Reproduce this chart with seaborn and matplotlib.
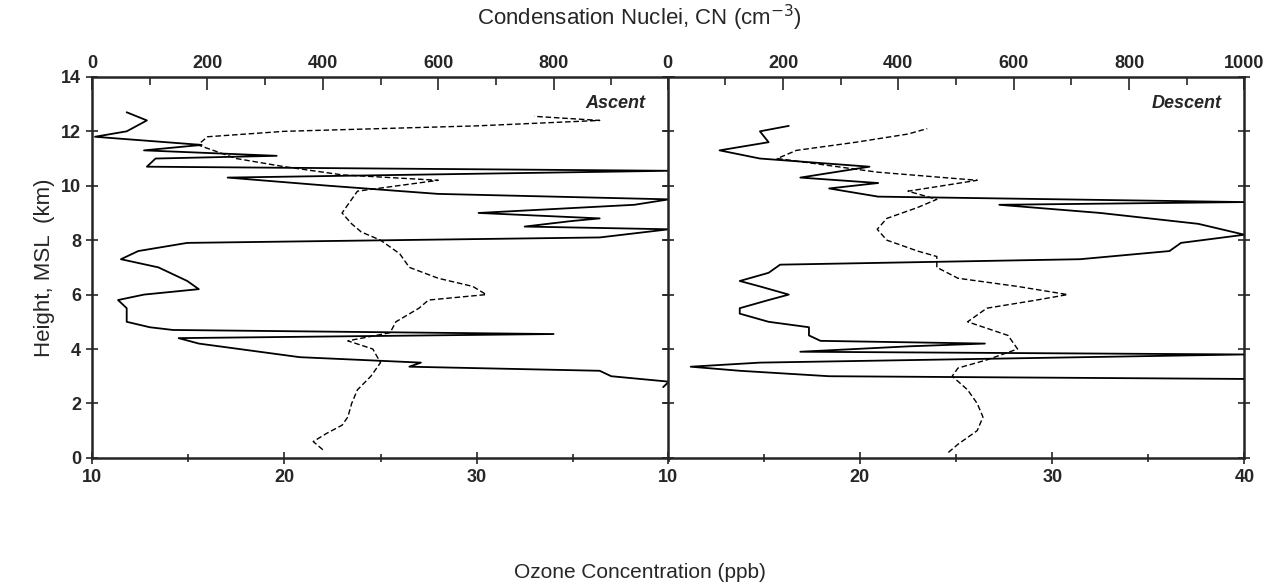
import matplotlib
matplotlib.use("Agg")
import matplotlib.pyplot as plt
import seaborn as sns
from matplotlib.ticker import MultipleLocator

# Ascent: CN (solid, top axis) and ozone (dashed, bottom axis)
asc_cn_h = [2.6, 2.8, 3.0, 3.2, 3.35, 3.5, 3.7, 3.9, 4.2, 4.4, 4.55, 4.7, 4.8, 5.0, 5.5, 5.8,
            6.0, 6.2, 6.5, 7.0, 7.3, 7.6, 7.9, 8.1, 8.4, 8.5, 8.7, 8.8, 9.0, 9.3, 9.5, 9.7,
            10.0, 10.3, 10.55, 10.7, 11.0, 11.1, 11.3, 11.5, 11.8, 12.0, 12.4, 12.7]
asc_cn = [990, 1000, 900, 880, 550, 570, 360, 290, 185, 150, 800, 140, 100, 60, 60, 45,
          90, 185, 165, 115, 50, 80, 165, 880, 1000, 750, 830, 880, 670, 940, 1000, 600,
          410, 235, 1000, 95, 110, 320, 90, 190, 5, 60, 95, 60]
asc_o3_h = [0.3, 0.6, 0.9, 1.2, 1.5, 2.0, 2.5, 3.0, 3.5, 4.0, 4.3, 4.6, 5.0, 5.5, 5.8, 6.0,
            6.3, 6.6, 7.0, 7.5, 8.0, 8.3, 8.6, 9.0, 9.5, 9.8, 10.2, 10.4, 10.7, 11.0, 11.5,
            11.8, 12.0, 12.2, 12.4, 12.55]
asc_o3 = [22.0, 21.5, 22.2, 23.0, 23.3, 23.5, 23.8, 24.5, 25.0, 24.6, 23.3, 25.5, 25.8,
          27.0, 27.5, 30.5, 29.8, 28.0, 26.5, 26.0, 25.0, 24.0, 23.5, 23.0, 23.5, 23.8,
          28.0, 23.0, 20.0, 17.5, 15.5, 16.0, 20.0, 30.0, 36.4, 33.0]

# Descent
des_cn_h = [2.9, 3.0, 3.2, 3.35, 3.5, 3.8, 3.9, 4.1, 4.2, 4.3, 4.5, 4.8, 5.0, 5.3, 5.5, 5.8,
            6.0, 6.3, 6.5, 6.8, 7.1, 7.3, 7.6, 7.9, 8.2, 8.6, 9.0, 9.3, 9.4, 9.6, 9.9, 10.1,
            10.3, 10.7, 11.0, 11.3, 11.6, 12.0, 12.2]
des_cn = [1000, 280, 125, 40, 160, 1000, 230, 420, 550, 265, 245, 245, 175, 125, 125, 175,
          210, 160, 125, 175, 195, 715, 870, 890, 1000, 920, 750, 575, 1000, 365, 280, 365,
          230, 350, 160, 90, 175, 160, 210]
des_o3_h = [0.2, 0.5, 1.0, 1.5, 2.0, 2.5, 3.0, 3.3, 3.6, 4.0, 4.5, 5.0, 5.5, 5.8, 6.0, 6.3,
            6.6, 7.0, 7.4, 7.6, 8.0, 8.4, 8.8, 9.2, 9.5, 9.8, 10.2, 10.5, 10.8, 11.0, 11.3,
            11.6, 11.9, 12.1]
des_o3 = [24.6, 25.1, 26.1, 26.4, 26.1, 25.6, 24.8, 25.1, 26.6, 28.2, 27.7, 25.6, 26.6,
          29.2, 30.8, 28.2, 25.1, 24.0, 24.0, 23.0, 21.4, 20.9, 21.4, 23.0, 24.0, 22.5,
          26.1, 20.9, 17.8, 15.7, 16.7, 19.8, 22.5, 23.5]

sns.set_style("white")
plt.rcParams["font.family"] = ["Liberation Sans", "DejaVu Sans"]

fig = plt.figure(figsize=(12.79, 5.87), dpi=100)
panels = [
    (0.072, asc_cn_h, asc_cn, asc_o3_h, asc_o3, "Ascent", [10, 20, 30], [0, 200, 400, 600, 800]),
    (0.522, des_cn_h, des_cn, des_o3_h, des_o3, "Descent", [10, 20, 30, 40],
     [0, 200, 400, 600, 800, 1000]),
]
for i, (x0, ch, cv, oh, ov, label, oticks, cticks) in enumerate(panels):
    ax = fig.add_axes([x0, 0.22, 0.451, 0.649])
    sns.lineplot(x=ov, y=oh, sort=False, estimator=None, ax=ax, color="black",
                 lw=1.0, linestyle=(0, (4, 2)))
    ax.set_xlim(10, 40)
    ax.set_ylim(0, 14)
    ax.set_xticks(oticks)
    ax.xaxis.set_minor_locator(MultipleLocator(5))
    ax.yaxis.set_major_locator(MultipleLocator(2))
    ax.yaxis.set_minor_locator(MultipleLocator(1))
    ax.tick_params(which="both", direction="inout", labelsize=13, width=1.2)
    ax.tick_params(which="major", length=9)
    ax.tick_params(which="minor", length=6)
    ax.tick_params(axis="y", right=True, left=True)
    if i == 1:
        ax.tick_params(axis="y", labelleft=False)
    else:
        ax.set_ylabel("Height, MSL  (km)", fontsize=16)
    for lab in ax.get_xticklabels() + ax.get_yticklabels():
        lab.set_fontweight("bold")
    for s in ax.spines.values():
        s.set_linewidth(1.8)
    ax.set_xlabel("")

    ax2 = ax.twiny()
    sns.lineplot(x=cv, y=ch, sort=False, estimator=None, ax=ax2, color="black", lw=1.3)
    ax2.set_xlim(0, 1000)
    ax2.set_xticks(cticks)
    ax2.xaxis.set_minor_locator(MultipleLocator(100))
    ax2.tick_params(which="both", direction="in", labelsize=13, width=1.2)
    ax2.tick_params(which="major", length=9)
    ax2.tick_params(which="minor", length=6)
    for lab in ax2.get_xticklabels():
        lab.set_fontweight("bold")
    ax2.set_xlabel("")
    ax2.set_ylim(0, 14)
    ax.text(0.96, 0.93, label, transform=ax.transAxes, ha="right", va="center",
            fontsize=13, style="italic", fontweight="bold")

fig.text(0.5, 0.97, "Condensation Nuclei, CN (cm$^{-3}$)", ha="center", va="center", fontsize=16)
fig.text(0.5, 0.025, "Ozone Concentration (ppb)", ha="center", va="center", fontsize=15)

fig.savefig("out.png", dpi=100)
